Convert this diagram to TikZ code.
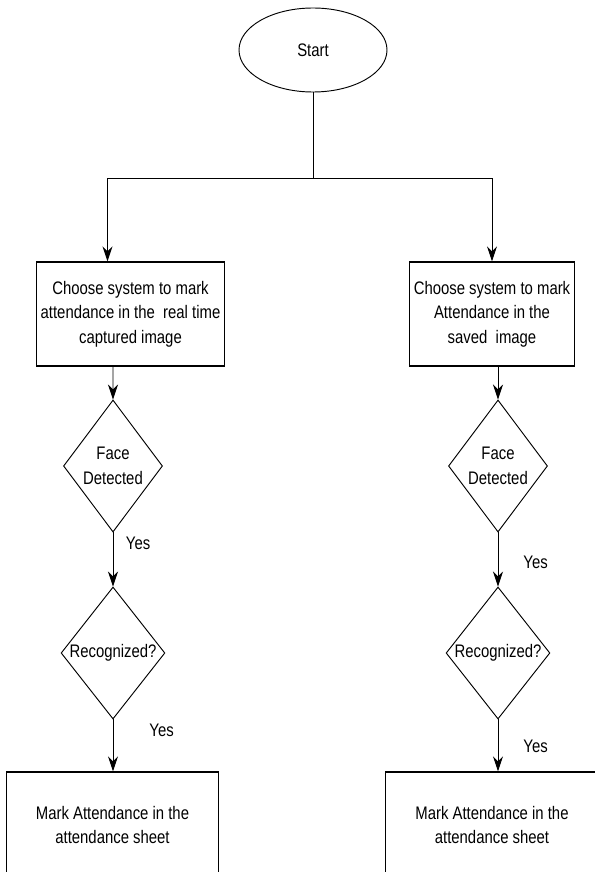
\documentclass[tikz,border=0pt]{standalone}
\usepackage{fontspec}
\setmainfont[FakeStretch=0.82]{Liberation Sans}
\usetikzlibrary{arrows.meta,positioning,shapes.geometric}

\begin{document}
\begin{tikzpicture}[x=0.03cm, y=-0.03cm,
	every node/.style={font=\fontsize{15.5}{21}\selectfont, align=center},
	startnode/.style={draw, ellipse, line width=0.8pt, minimum width=4.44cm, minimum height=2.52cm},
	choosebox/.style={draw, rectangle, line width=1pt, minimum height=3.12cm},
	decision/.style={draw, diamond, line width=0.8pt, inner sep=0pt, minimum width=2.97cm, minimum height=3.96cm},
	markbox/.style={draw, rectangle, line width=1pt, minimum width=6.38cm, minimum height=3.18cm},
	arr/.style={line width=0.8pt, -{Stealth[length=4.5mm, width=3mm]}},
	yes/.style={anchor=west, inner sep=0pt}]
			%%%%% START %%%%%
			\useasboundingbox (0, 0) rectangle (595, 872);
			\clip (0, 0) rectangle (595, 872);
			
			\node[startnode] (start) at (313, 50) {Start};
			\coordinate (split) at (313, 178);
			
			\node[choosebox, minimum width=5.55cm] (realbox) at (130.5, 314) {Choose system to mark\\attendance in the\ \ real time\\captured image};
			\node[choosebox, minimum width=4.8cm] (savedbox) at (492, 314) {Choose system to mark\\Attendance in the\ \\saved\ \ image};
			
			\node[decision] (realface) at (113, 466) {Face\\Detected};
			\node[decision] (realrecog) at (113, 653) {Recognized?};
			\node[markbox] (realmark) at (112.5, 825) {Mark Attendance in the\\attendance sheet};
			
			\node[decision] (savedface) at (498, 466) {Face\\Detected};
			\node[decision] (savedrecog) at (498, 653) {Recognized?};
			\node[markbox] (savedmark) at (492, 825) {Mark Attendance in the\\attendance sheet};
			
			\draw[line width=0.8pt] (start.south) -- (split);
			\draw[arr] (split) -| ([xshift=-0.69cm]realbox.north);
			\draw[arr] (split) -| (savedbox.north);
			
			\draw[arr] ([xshift=-0.525cm]realbox.south) -- (realface.north);
			\draw[arr] (realface.south) -- node[yes, pos=0.2, xshift=0.375cm] {Yes} (realrecog.north);
			\draw[arr] (realrecog.south) -- node[yes, pos=0.21, xshift=1.08cm] {Yes} (realrecog.south |- realmark.north);
			
			\draw[arr] ([xshift=0.18cm]savedbox.south) -- (savedface.north);
			\draw[arr] (savedface.south) -- node[yes, pos=0.55, xshift=0.75cm] {Yes} (savedrecog.north);
			\draw[arr] (savedrecog.south) -- node[yes, pos=0.52, xshift=0.75cm] {Yes} (savedrecog.south |- savedmark.north);
			%%%%% END %%%%%
\end{tikzpicture}
\end{document}
